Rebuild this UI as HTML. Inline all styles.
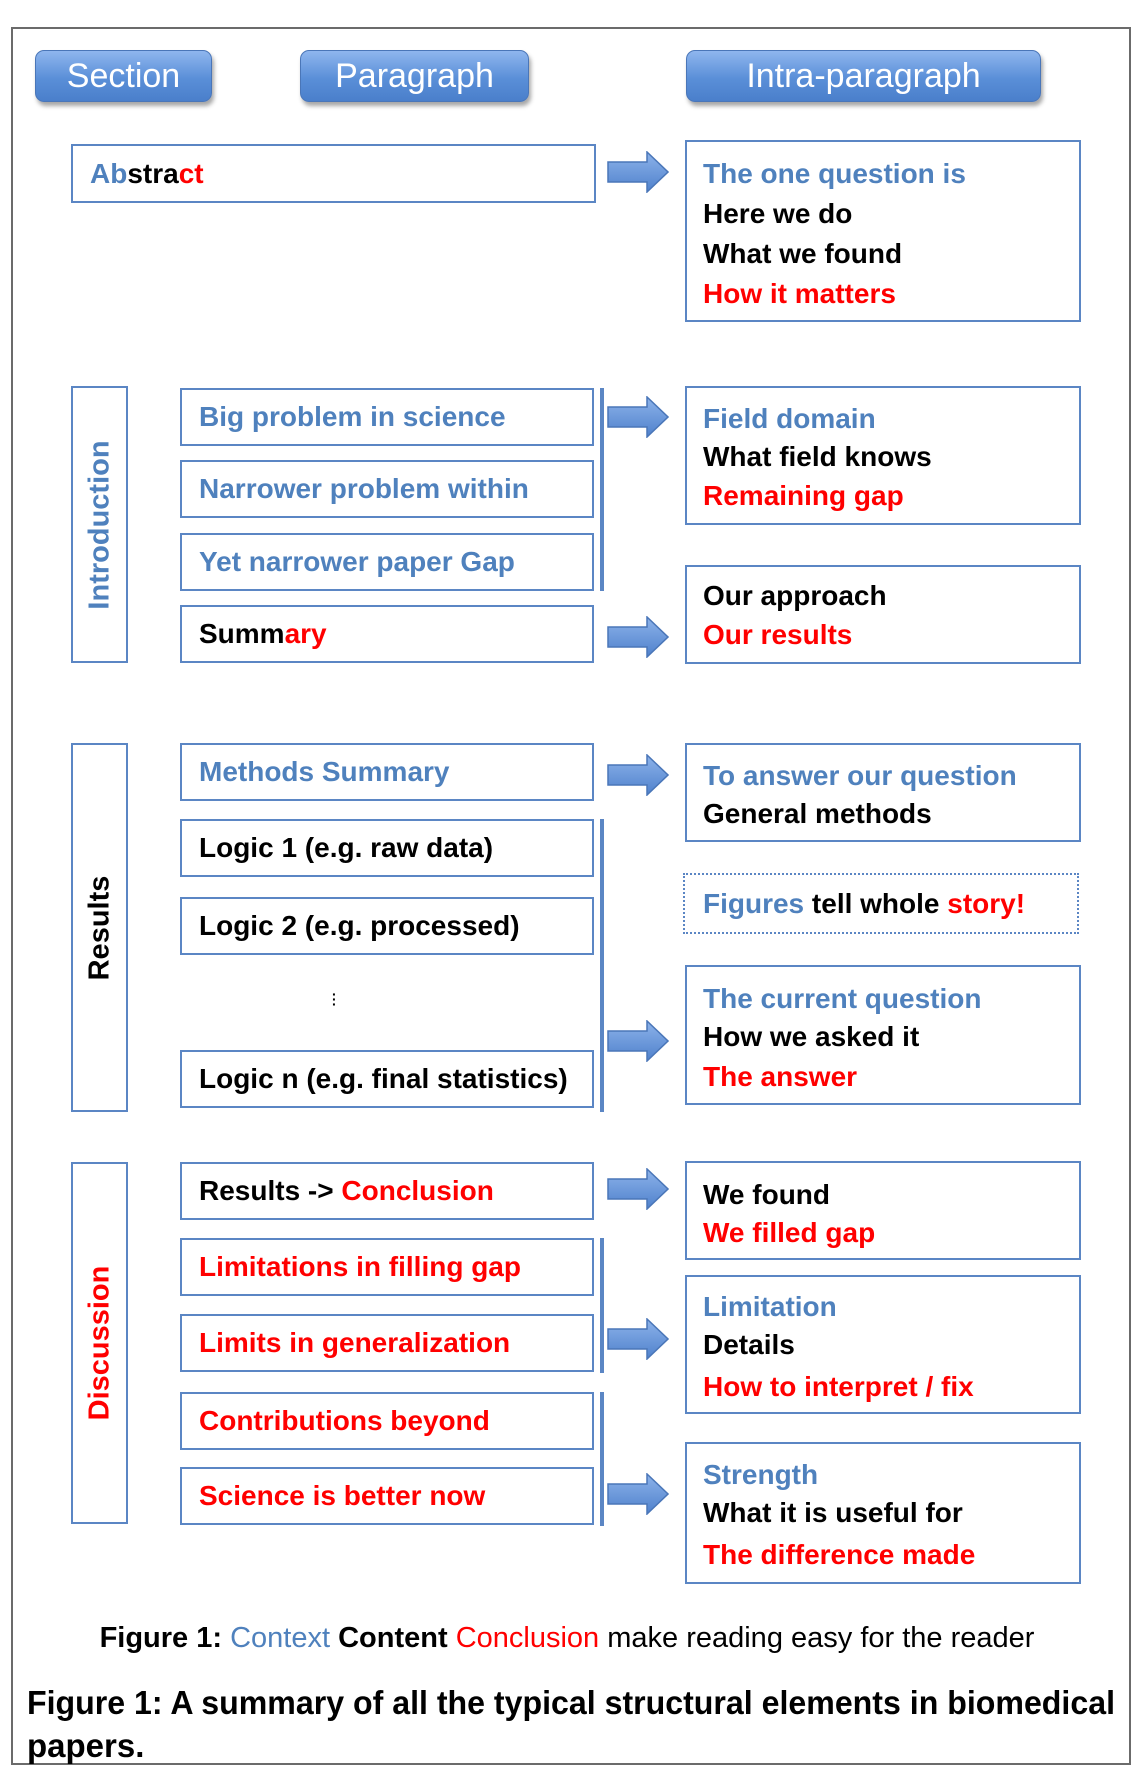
<!DOCTYPE html>
<html><head><meta charset="utf-8"><style>
body{margin:0;background:#fff;}
#c{position:relative;width:1134px;height:1771px;overflow:hidden;font-family:"Liberation Sans",sans-serif;}
.abs{position:absolute;box-sizing:border-box;}
.frame{left:11px;top:27px;width:1120px;height:1738px;border:2px solid #6b6b6b;}
.btn{top:50px;height:52px;border-radius:9px;background:linear-gradient(#8fb6ee,#5a8fd8 55%,#4a7fcb);border:1px solid #4a76b8;color:#fff;font-size:34px;text-align:center;line-height:50px;box-shadow:2px 4px 4px rgba(0,0,0,.35);}
.box{border:2px solid #5b86c4;background:#fff;font-weight:bold;font-size:28px;}
.p{left:180px;width:414px;height:58px;line-height:54px;padding-left:17px;white-space:nowrap;}
.r{left:685px;width:396px;padding-left:16px;}
.r div{position:absolute;left:16px;white-space:nowrap;line-height:32px;}
.b{color:#4f81bd}.k{color:#000}.red{color:#ff0000}
.sec{left:71px;width:57px;}
.sec span{position:absolute;left:50%;top:50%;transform:translate(-50%,-50%) rotate(-90deg);font-weight:bold;font-size:29px;white-space:nowrap;}
.vl{width:4px;background:#5b86c4;left:600px;}
svg.ar{position:absolute;left:607px;width:62px;height:42px;}
</style></head><body><div id="c">
<div class="abs frame"></div>
<div class="abs btn" style="left:35px;width:177px">Section</div>
<div class="abs btn" style="left:300px;width:229px">Paragraph</div>
<div class="abs btn" style="left:686px;width:355px">Intra-paragraph</div>

<svg width="0" height="0" style="position:absolute"><defs><linearGradient id="g" x1="0" y1="0" x2="0" y2="1"><stop offset="0" stop-color="#8db3ea"/><stop offset="1" stop-color="#4f81cc"/></linearGradient></defs></svg>

<!-- Abstract -->
<div class="abs box p" style="left:71px;width:525px;top:144px;height:59px;line-height:55px"><span class="b">Ab</span><span class="k">stra</span><span class="red">ct</span></div>
<div class="abs box r" style="top:140px;height:182px">
<div class="b" style="top:16px">The one question is</div>
<div class="k" style="top:56px">Here we do</div>
<div class="k" style="top:96px">What we found</div>
<div class="red" style="top:136px">How it matters</div></div>

<!-- Introduction -->
<div class="abs box sec" style="top:386px;height:277px"><span class="b">Introduction</span></div>
<div class="abs box p b" style="top:388px">Big problem in science</div>
<div class="abs box p b" style="top:460px">Narrower problem within</div>
<div class="abs box p b" style="top:533px">Yet narrower paper Gap</div>
<div class="abs box p" style="top:605px"><span class="k">Summ</span><span class="red">ary</span></div>
<div class="abs vl" style="top:388px;height:203px"></div>
<div class="abs box r" style="top:386px;height:139px">
<div class="b" style="top:15px">Field domain</div>
<div class="k" style="top:53px">What field knows</div>
<div class="red" style="top:92px">Remaining gap</div></div>
<div class="abs box r" style="top:565px;height:99px">
<div class="k" style="top:13px">Our approach</div>
<div class="red" style="top:52px">Our results</div></div>

<!-- Results -->
<div class="abs box sec" style="top:743px;height:369px"><span class="k">Results</span></div>
<div class="abs box p b" style="top:743px">Methods Summary</div>
<div class="abs box p k" style="top:819px">Logic 1 (e.g. raw data)</div>
<div class="abs box p k" style="top:897px">Logic 2 (e.g. processed)</div>
<div class="abs" style="left:332px;top:992px;font-size:14px;font-weight:bold;line-height:5px">·<br>·<br>·</div>
<div class="abs box p k" style="top:1050px">Logic n (e.g. final statistics)</div>
<div class="abs vl" style="top:819px;height:293px"></div>
<div class="abs box r" style="top:743px;height:99px">
<div class="b" style="top:15px">To answer our question</div>
<div class="k" style="top:53px">General methods</div></div>
<div class="abs" style="left:683px;top:873px;width:396px;height:61px;border:2px dotted #5b86c4;font-weight:bold;font-size:28px;line-height:57px;padding-left:18px;box-sizing:border-box;white-space:nowrap"><span class="b">Figures</span> <span class="k">tell whole</span> <span class="red">story!</span></div>
<div class="abs box r" style="top:965px;height:140px">
<div class="b" style="top:16px">The current question</div>
<div class="k" style="top:54px">How we asked it</div>
<div class="red" style="top:94px">The answer</div></div>

<!-- Discussion -->
<div class="abs box sec" style="top:1162px;height:362px"><span class="red">Discussion</span></div>
<div class="abs box p" style="top:1162px"><span class="k">Results -&gt; </span><span class="red">Conclusion</span></div>
<div class="abs box p red" style="top:1238px">Limitations in filling gap</div>
<div class="abs box p red" style="top:1314px">Limits in generalization</div>
<div class="abs box p red" style="top:1392px">Contributions beyond</div>
<div class="abs box p red" style="top:1467px">Science is better now</div>
<div class="abs vl" style="top:1238px;height:135px"></div>
<div class="abs vl" style="top:1392px;height:134px"></div>
<div class="abs box r" style="top:1161px;height:99px">
<div class="k" style="top:16px">We found</div>
<div class="red" style="top:54px">We filled gap</div></div>
<div class="abs box r" style="top:1275px;height:139px">
<div class="b" style="top:14px">Limitation</div>
<div class="k" style="top:52px">Details</div>
<div class="red" style="top:94px">How to interpret / fix</div></div>
<div class="abs box r" style="top:1442px;height:142px">
<div class="b" style="top:15px">Strength</div>
<div class="k" style="top:53px">What it is useful for</div>
<div class="red" style="top:95px">The difference made</div></div>

<!-- arrows -->
<svg class="ar" style="top:151px" viewBox="0 0 62 42"><path d="M1 11H40V1L61 21L40 41V31H1Z" fill="url(#g)" stroke="#4a76b8" stroke-width="1.5"/></svg>
<svg class="ar" style="top:396px" viewBox="0 0 62 42"><path d="M1 11H40V1L61 21L40 41V31H1Z" fill="url(#g)" stroke="#4a76b8" stroke-width="1.5"/></svg>
<svg class="ar" style="top:616px" viewBox="0 0 62 42"><path d="M1 11H40V1L61 21L40 41V31H1Z" fill="url(#g)" stroke="#4a76b8" stroke-width="1.5"/></svg>
<svg class="ar" style="top:754px" viewBox="0 0 62 42"><path d="M1 11H40V1L61 21L40 41V31H1Z" fill="url(#g)" stroke="#4a76b8" stroke-width="1.5"/></svg>
<svg class="ar" style="top:1020px" viewBox="0 0 62 42"><path d="M1 11H40V1L61 21L40 41V31H1Z" fill="url(#g)" stroke="#4a76b8" stroke-width="1.5"/></svg>
<svg class="ar" style="top:1168px" viewBox="0 0 62 42"><path d="M1 11H40V1L61 21L40 41V31H1Z" fill="url(#g)" stroke="#4a76b8" stroke-width="1.5"/></svg>
<svg class="ar" style="top:1318px" viewBox="0 0 62 42"><path d="M1 11H40V1L61 21L40 41V31H1Z" fill="url(#g)" stroke="#4a76b8" stroke-width="1.5"/></svg>
<svg class="ar" style="top:1473px" viewBox="0 0 62 42"><path d="M1 11H40V1L61 21L40 41V31H1Z" fill="url(#g)" stroke="#4a76b8" stroke-width="1.5"/></svg>

<!-- captions -->
<div class="abs" style="left:40px;top:1618px;width:1054px;font-size:29px;line-height:40px;white-space:nowrap;text-align:center"><b>Figure 1: </b><span class="b">Context</span> <b>Content</b> <span class="red">Conclusion</span> make reading easy for the reader</div>
<svg class="abs" style="left:0;top:1670px" width="1134" height="100">
<text x="27" y="44" font-family="Liberation Sans, sans-serif" font-weight="bold" font-size="33" textLength="1088" lengthAdjust="spacingAndGlyphs">Figure 1: A summary of all the typical structural elements in biomedical</text>
<text x="27" y="87" font-family="Liberation Sans, sans-serif" font-weight="bold" font-size="33">papers.</text>
</svg>
</div></body></html>
